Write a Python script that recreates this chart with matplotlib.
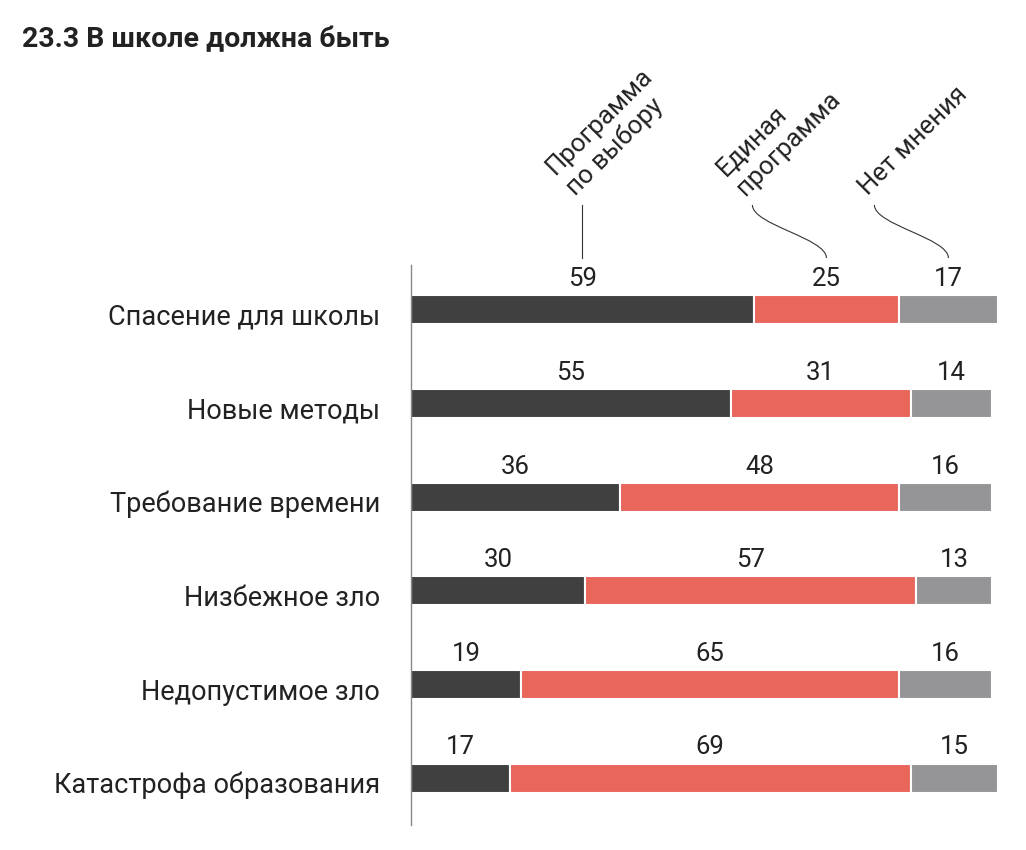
import numpy as np
import matplotlib
matplotlib.use('Agg')
import matplotlib.pyplot as plt
from matplotlib.path import Path
from matplotlib.patches import PathPatch

plt.rcParams['font.family'] = ['Roboto', 'DejaVu Sans']

categories = ['Спасение для школы', 'Новые методы', 'Требование времени',
              'Низбежное зло', 'Недопустимое зло', 'Катастрофа образования']
po_vyboru = [59, 55, 36, 30, 19, 17]
edinaya = [25, 31, 48, 57, 65, 69]
net_mneniya = [17, 14, 16, 13, 16, 15]
series_names = ['Программа\nпо выбору', 'Единая\nпрограмма', 'Нет мнения']
colors = ['#404040', '#e8665a', '#959598']

W, H = 1026, 850
fig = plt.figure(figsize=(W / 100, H / 100), dpi=100)

# axes: 0..100 -> 411..992 px
px_per_unit = 5.81
xmax = 101.5
ax = fig.add_axes([411 / W, 25 / H, xmax * px_per_unit / W, 560 / H])
ax.set_xlim(0, xmax)
ax.set_ylim(5.50, -0.48)

series = [po_vyboru, edinaya, net_mneniya]
y = np.arange(len(categories))
left = np.zeros(len(categories))
for vals, c in zip(series, colors):
    vals = np.array(vals)
    ax.barh(y, vals, left=left, height=0.31, color=c, edgecolor='white',
            linewidth=1.5, clip_on=False)
    for yi, l, v in zip(y, left, vals):
        ax.text(l + v / 2, yi - 0.2, str(v), ha='center', va='bottom',
                fontsize=18.5, color='#222222')
    left = left + vals

for yi, cat in zip(y, categories):
    ax.text(-5.3, yi + 0.08, cat, ha='right', va='center', fontsize=19.5,
            color='#222222')

for s in ['top', 'right', 'bottom']:
    ax.spines[s].set_visible(False)
ax.spines['left'].set_color('#888888')
ax.spines['left'].set_linewidth(1)
ax.set_xticks([])
ax.set_yticks([])

# overlay in pixel coordinates for headers and leader lines
ov = fig.add_axes([0, 0, 1, 1])
ov.set_xlim(0, W)
ov.set_ylim(H, 0)
ov.axis('off')

first = np.array([po_vyboru[0], edinaya[0], net_mneniya[0]])
starts = np.concatenate([[0], np.cumsum(first)[:-1]])
centers = starts + first / 2
for k, (cx, name) in enumerate(zip(centers, series_names)):
    xb = 411 + cx * px_per_unit
    if k == 0:
        xt = xb
        ov.plot([xt, xb], [205, 258], color='#333333', lw=0.8)
    else:
        xt = xb - 74
        verts = [(xt, 205), (xt, 225), (xb, 238), (xb, 258)]
        p = Path(verts, [Path.MOVETO, Path.CURVE4, Path.CURVE4, Path.CURVE4])
        ov.add_patch(PathPatch(p, fill=False, edgecolor='#333333', lw=0.8))
    ov.text(xt - 3, 200, name, rotation=45, rotation_mode='anchor',
            ha='left', va='bottom', fontsize=18.5, color='#222222',
            linespacing=1.2)

fig.text(22 / W, 1 - 40 / H, '23.3 В школе должна быть', fontsize=20.5,
         fontweight='bold', ha='left', va='center', color='#222222')

fig.savefig('out.png', dpi=100, facecolor='white')
